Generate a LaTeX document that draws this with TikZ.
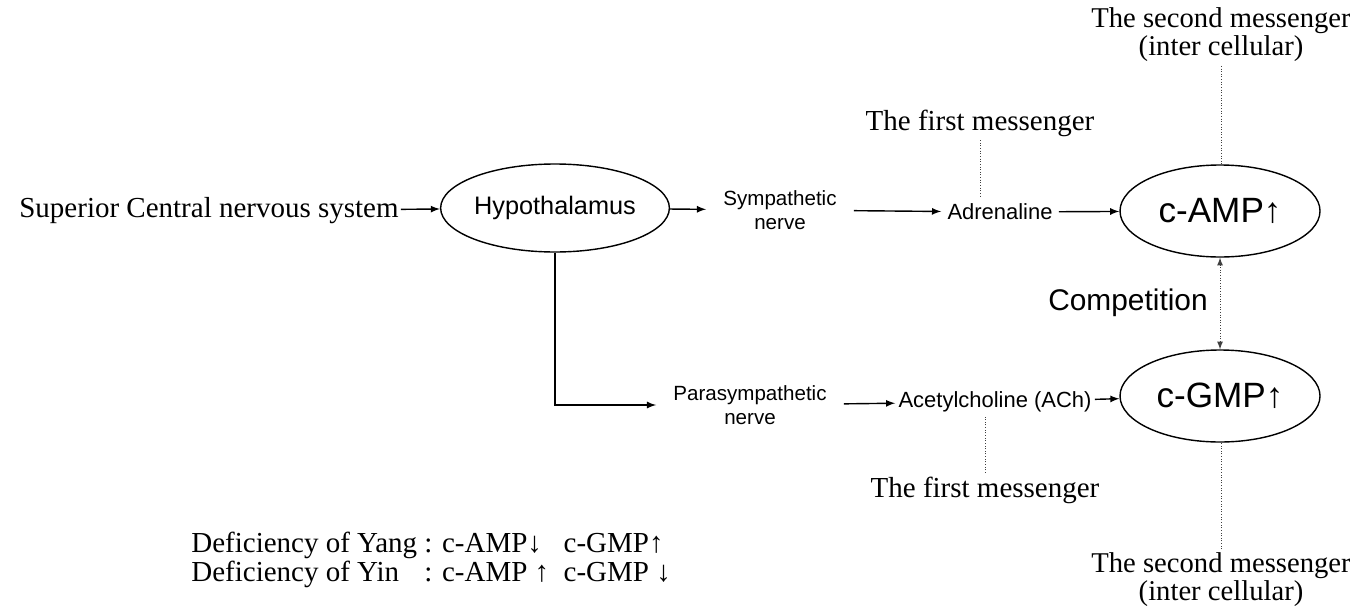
\documentclass[tikz,border=0pt]{standalone}
\usepackage{fontspec}
\setmainfont{Liberation Serif}
\setsansfont{Liberation Sans}
\usetikzlibrary{shapes.geometric, arrows, positioning}

\begin{document}
\begin{tikzpicture}[
    every node/.style={inner sep=2pt},
    label/.style={font=\fontsize{16.5}{17}\selectfont, align=center},
    nerve/.style={font=\sffamily\fontsize{11.7}{14}\selectfont, align=center, inner sep=0.34cm},
    agent/.style={font=\sffamily\fontsize{12.5}{14}\selectfont, inner sep=0.12cm},
    oval/.style={ellipse, draw=black, line width=0.8pt, inner sep=0pt, font=\sffamily},
    arrow/.style={line width=0.8pt,->,>=latex},
    link/.style={densely dotted, line width=0.5pt, gray!50!black}
]
\useasboundingbox (0,0) rectangle (27,-12.24);

% Sympathetic branch
\node (scns) [label, inner sep=1pt] at (4.18,-4.22) {Superior Central nervous system};
\node (hypo) [oval, minimum width=3.9cm, minimum height=1.76cm, font=\sffamily\fontsize{14.4}{16}\selectfont] at (11.1,-4.16) {Hypothalamus};
\node (symp) [nerve] at (15.6,-4.2) {Sympathetic\\nerve};
\node (adren) [agent] at (20.0,-4.24) {Adrenaline};
\node (camp) [oval, minimum width=4cm, minimum height=1.84cm, font=\sffamily\fontsize{20}{22}\selectfont] at (24.4,-4.22) {c-AMP↑};
\node (first1) [label] at (19.6,-2.46) {The first messenger};
\node (second1) [label, font=\fontsize{16.3}{16}\selectfont] at (24.42,-0.7) {The second messenger\\(inter cellular)};

% Parasympathetic branch
\node (comp) [font=\sffamily\fontsize{17}{19}\selectfont] at (22.56,-6.06) {Competition};
\node (cgmp) [oval, minimum width=4cm, minimum height=1.84cm, font=\sffamily\fontsize{20}{22}\selectfont] at (24.4,-7.92) {c-GMP↑};
\node (para) [nerve] at (15.0,-8.1) {Parasympathetic\\nerve};
\node (ach) [agent, inner sep=0.06cm] at (19.9,-8.04) {Acetylcholine (ACh)};
\node (first2) [label] at (19.7,-9.8) {The first messenger};
\node (second2) [label, font=\fontsize{16.3}{14}\selectfont] at (24.42,-11.6) {The second messenger\\(inter cellular)};

% Legend
\node (defic) [label, anchor=west] at (3.75,-11.22) {%
  \begin{tabular}{@{}l@{\ }l@{}}
    Deficiency of Yang & : c-AMP↓\ \ \ c-GMP↑\\
    Deficiency of Yin  & : c-AMP ↑\ \ c-GMP ↓
  \end{tabular}};

% Arrows
\draw [arrow] (scns) -- (hypo);
\draw [arrow] (hypo) -- (symp);
\draw [arrow] (symp) -- (adren);
\draw [arrow] (adren) -- (camp);
\draw [arrow] (hypo.south) |- (para.west);
\draw [arrow] (para) -- (ach);
\draw [arrow] (ach) -- (cgmp);
\draw [link, <->, >=latex] (camp) -- (cgmp);

% Dotted links
\draw [link] (first1.south) -- (first1.south |- adren.north);
\draw [link] (second1.south) -- (second1.south |- camp.north);
\draw [link] (first2.north) -- (first2.north |- ach.south);
\draw [link] (second2.north) -- (second2.north |- cgmp.south);

\end{tikzpicture}
\end{document}
